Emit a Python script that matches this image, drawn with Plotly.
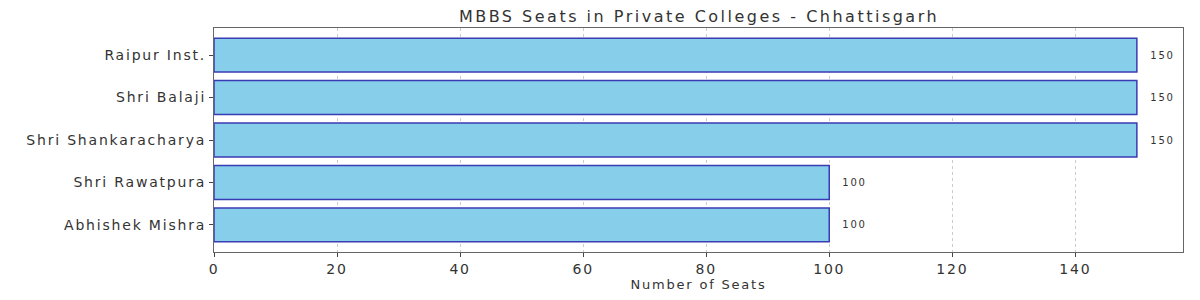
import plotly.graph_objects as go

colleges = ["Raipur Inst.", "Shri Balaji", "Shri Shankaracharya", "Shri Rawatpura", "Abhishek Mishra"]
seats = [150, 150, 150, 100, 100]
x_ticks = [0, 20, 40, 60, 80, 100, 120, 140]

FONT = "DejaVu Sans"
TXT = "#333333"
fig = go.Figure()
fig.add_trace(go.Bar(
    y=colleges, x=seats, orientation="h", width=0.8,
    marker=dict(color="#87CEEB", line=dict(color="#3b3bb3", width=1.5)),
    hoverinfo="x+y",
))
for c, v in zip(colleges, seats):
    fig.add_annotation(x=v, y=c, text=str(v), xanchor="left", xshift=14, showarrow=False,
                       font=dict(family=FONT, size=10, color=TXT))

fig.update_layout(
    width=1200, height=300,
    margin=dict(l=214, r=17, t=28, b=45),
    paper_bgcolor="white", plot_bgcolor="white",
    title=dict(text="MBBS Seats in Private Colleges - Chhattisgarh", x=0.5825, xanchor="center",
               y=0.945, yanchor="middle", font=dict(family=FONT, size=16, color=TXT)),
    showlegend=False, bargap=0.2,
    font=dict(family=FONT, size=14, color=TXT),
)
fig.update_xaxes(
    range=[0, 157.5], tickvals=x_ticks, ticks="outside", ticklen=4, tickcolor="#444444",
    showline=True, linecolor="#666666", linewidth=1.2, mirror=True,
    showgrid=True, gridcolor="#cccccc", griddash="dot", gridwidth=1, zeroline=False,
    title=dict(text="Number of Seats", font=dict(family=FONT, size=13, color=TXT), standoff=2),
    tickfont=dict(family=FONT, size=14, color=TXT),
)
fig.update_yaxes(
    categoryorder="array", categoryarray=colleges, range=[4.64, -0.64],
    ticks="outside", ticklen=4, tickcolor="#444444",
    showline=True, linecolor="#666666", linewidth=1.2, mirror=True,
    showgrid=False, zeroline=False, tickfont=dict(family=FONT, size=14, color=TXT),
)

post = """
document.querySelectorAll('#{plot_id} svg text').forEach(function(t){ t.style.letterSpacing='1.8px'; });
document.querySelectorAll('#{plot_id} .gtitle').forEach(function(t){ t.style.letterSpacing='2.5px'; });
"""
fig.write_html("out.html", post_script=post)
